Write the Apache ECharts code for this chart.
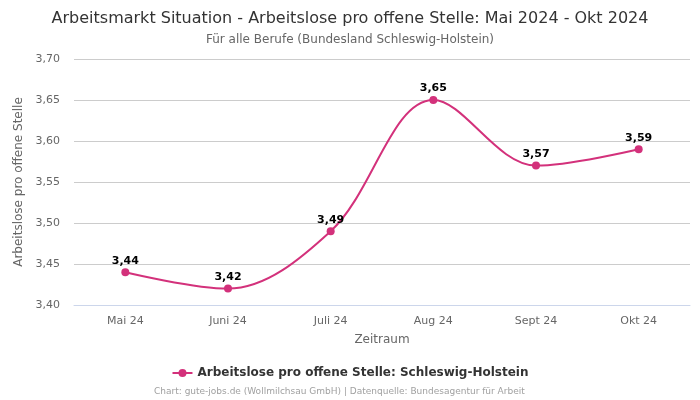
<!DOCTYPE html>
<html><head><meta charset="utf-8">
<script src="https://cdn.jsdelivr.net/npm/echarts@6/dist/echarts.min.js"></script>
<style>html,body{margin:0;padding:0;background:#fff}#c{width:700px;height:400px}</style>
</head><body><div id="c"></div>
<script>
const categories = ['Mai 24','Juni 24','Juli 24','Aug 24','Sept 24','Okt 24'];
const values = [3.44, 3.42, 3.49, 3.65, 3.57, 3.59];
const seriesName = 'Arbeitslose pro offene Stelle: Schleswig-Holstein';
const fmt = v => v.toFixed(2).replace('.', ',');
const chart = echarts.init(document.getElementById('c'));
chart.setOption({
  animation: false,
  textStyle: { fontFamily: 'DejaVu Sans' },
  title: [
    { text: 'Arbeitsmarkt Situation - Arbeitslose pro offene Stelle: Mai 2024 - Okt 2024', left: 'center', top: 6,
      textStyle: { fontSize: 16, fontWeight: 'normal', color: '#333', fontFamily: 'DejaVu Sans' } },
    { text: 'Für alle Berufe (Bundesland Schleswig-Holstein)', left: 'center', top: 29,
      textStyle: { fontSize: 12, fontWeight: 'normal', color: '#666' } },
    { text: 'Chart: gute-jobs.de (Wollmilchsau GmbH) | Datenquelle: Bundesagentur für Arbeit', left: 149, top: 382,
      textStyle: { fontSize: 9, fontWeight: 'normal', color: '#a0a0a0' } }
  ],
  legend: { bottom: 16, left: 'center', itemWidth: 20, itemHeight: 10,
    textStyle: { fontSize: 12, fontWeight: 'bold', color: '#333' } },
  grid: { left: 74, right: 10, top: 59, bottom: 95 },
  xAxis: { type: 'category', data: categories, name: 'Zeitraum', nameLocation: 'middle', nameGap: 29,
    nameTextStyle: { fontSize: 12, color: '#666' },
    axisLine: { show: true, lineStyle: { color: '#ccd6eb' } }, axisTick: { show: false },
    axisLabel: { fontSize: 11, color: '#666', margin: 11 } },
  yAxis: { type: 'value', min: 3.4, max: 3.7, interval: 0.05,
    name: 'Arbeitslose pro offene Stelle', nameLocation: 'middle', nameGap: 41,
    nameTextStyle: { fontSize: 12, color: '#666' },
    axisLabel: { formatter: fmt, fontSize: 11, color: '#666', margin: 14 },
    splitLine: { lineStyle: { color: '#ccc' } } },
  series: [{ name: seriesName, type: 'line', data: values, smooth: 0.35,
    symbol: 'circle', symbolSize: 8,
    itemStyle: { color: '#d3317b' }, lineStyle: { width: 2, color: '#d3317b' },
    label: { show: true, position: 'top', formatter: p => fmt(p.value), fontSize: 11, fontWeight: 'bold', color: '#000', distance: 2 } }]
});
</script></body></html>
